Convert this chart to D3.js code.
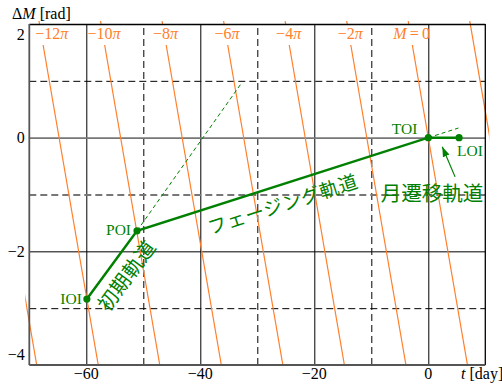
<!DOCTYPE html>
<html>
<head>
<meta charset="utf-8">
<script src="https://cdn.jsdelivr.net/npm/d3@7"></script>
<style>
body { margin: 0; background: #fff; }
svg { display: block; font-family: "Liberation Serif", "DejaVu Serif", serif; }
.jp { font-family: "Noto Sans CJK JP", sans-serif; }
</style>
</head>
<body>
<script>
"use strict";

// axis ticks and grid
const tTicks = [-60, -40, -20, 0];
const tGridDashed = [-50, -30, -10];
const dmTicks = [2, 0, -2, -4];
const dmGridSolid = [0, -2];
const dmGridDashed = [1, -1, -3];

// lines of constant mean anomaly M = k*pi
const mMultiples = [-14, -12, -10, -8, -6, -4, -2, 0, 2];
const mLabels = ["", "−12π", "−10π", "−8π", "−6π", "−4π", "−2π", "M\u2009=\u20090", ""];
const dmRate = 0.582; // rad/day

// events on the trajectory
const eventNames = ["IOI", "POI", "TOI", "LOI"];
const eventT = [-59.9, -51.1, 0, 5.4];
const eventDM = [-2.84, -1.64, 0, 0];

// thin dashed extensions [t, dM]
const initExtEnd = [-32.7, 0.97];
const phaseExtEnd = [5.3, 0.17];

// arrow pointing at the transfer leg
const arrowFrom = [4.7, -0.69];
const arrowTo = [2.45, -0.16];

const legNames = ["初期軌道", "フェージング軌道", "月遷移軌道"];

const w = 502;
const h = 385;
const margin = { top: 24, right: 16.7, bottom: 20, left: 29.3 };
const width = w - margin.left - margin.right;
const height = h - margin.top - margin.bottom;
const green = "#008000";
const orange = "#ff7f2a";

const x = d3.scaleLinear().domain([-70, 10]).range([0, width]);
const y = d3.scaleLinear().domain([-4, 2]).range([height, 0]);

const svg = d3.select("body").append("svg")
	.attr("width", w)
	.attr("height", h);

svg.append("defs").append("clipPath")
	.attr("id", "plotClip")
	.append("rect")
	.attr("x", -4)
	.attr("y", -3)
	.attr("width", width + 8)
	.attr("height", height + 3);

svg.select("defs").append("marker")
	.attr("id", "arrowHead")
	.attr("markerUnits", "userSpaceOnUse")
	.attr("markerWidth", 11)
	.attr("markerHeight", 8)
	.attr("refX", 10)
	.attr("refY", 4)
	.attr("orient", "auto")
	.append("path")
	.attr("d", "M0,0.5 L10,4 L0,7.5 Z")
	.attr("fill", green);

const chart = svg.append("g")
	.attr("transform", `translate(${margin.left},${margin.top})`);

// grid lines
function gridX(values, dashed) {
	const g = chart.append("g")
		.attr("transform", `translate(0,${height})`)
		.call(d3.axisBottom(x).tickValues(values).tickSize(-height).tickFormat(""));
	g.select(".domain").remove();
	g.selectAll("line")
		.attr("stroke", "#000")
		.attr("stroke-dasharray", dashed ? "7,4" : null);
}
function gridY(values, dashed) {
	const g = chart.append("g")
		.call(d3.axisLeft(y).tickValues(values).tickSize(-width).tickFormat(""));
	g.select(".domain").remove();
	g.selectAll("line")
		.attr("stroke", d => (d === 0 || d === -1) ? "#777" : "#000")
		.attr("stroke-width", d => (d === 0 || d === -1) ? 1.8 : 1)
		.attr("stroke-dasharray", dashed ? "7,4" : null);
}
gridX(tTicks, false);
gridX(tGridDashed, true);
gridY(dmGridSolid, false);
gridY(dmGridDashed, true);

// constant-M lines
const line = d3.line().x(d => x(d[0])).y(d => y(d[1]));
const mGroup = chart.append("g").attr("clip-path", "url(#plotClip)");
const labelGroup = chart.append("g").attr("fill", orange).style("font-size", "16px");

mMultiples.forEach((k, i) => {
	const M = k * Math.PI;
	const tAt = dm => (M - dm) / dmRate;
	const hasLabel = mLabels[i] !== "";
	const dmAbove = y.invert(-3);
	const dmTop = hasLabel ? y.invert(21) : dmAbove;
	const segs = [[[tAt(dmTop), dmTop], [tAt(-4), -4]]];
	if (hasLabel) segs.push([[tAt(dmAbove), dmAbove], [tAt(2), 2]]);
	segs.forEach(s => {
		mGroup.append("path")
			.attr("d", line(s))
			.attr("fill", "none")
			.attr("stroke", orange)
			.attr("stroke-width", 1.2);
	});
	if (hasLabel) {
		const txt = labelGroup.append("text")
			.attr("y", 14.5)
			.attr("text-anchor", "middle");
		mLabels[i].split(/([πM])/).filter(s => s !== "").forEach(s => {
			txt.append("tspan")
				.style("font-style", (s === "π" || s === "M") ? "italic" : null)
				.text(s);
		});
		const half = txt.node().getComputedTextLength() / 2;
		txt.attr("x", Math.max(x(tAt(2)) + 3, half + 6));
	}
});

// frame
chart.append("line").attr("x1", 0).attr("x2", width).attr("y1", 0.5).attr("y2", 0.5)
	.attr("stroke", "#000").attr("stroke-width", 1.3);
chart.append("line").attr("x1", width).attr("x2", width).attr("y1", 0).attr("y2", height)
	.attr("stroke", "#000").attr("stroke-width", 1.3);
chart.append("line").attr("x1", 0).attr("x2", 0).attr("y1", 0).attr("y2", height)
	.attr("stroke", "#555").attr("stroke-width", 1.8);
chart.append("line").attr("x1", 0).attr("x2", width).attr("y1", height).attr("y2", height)
	.attr("stroke", "#555").attr("stroke-width", 1.8);

// tick labels
chart.append("g").selectAll("text")
	.data(tTicks)
	.join("text")
	.attr("x", d => x(d))
	.attr("y", height + 14)
	.attr("text-anchor", "middle")
	.style("font-size", "16px")
	.text(d => d < 0 ? "−" + Math.abs(d) : d);

chart.append("g").selectAll("text")
	.data(dmTicks)
	.join("text")
	.attr("x", -4.5)
	.attr("y", d => Math.min(Math.max(y(d), 11), height - 10))
	.attr("dy", "0.33em")
	.attr("text-anchor", "end")
	.style("font-size", "16px")
	.text(d => d < 0 ? "−" + Math.abs(d) : d);

// axis titles
const yTitle = svg.append("text")
	.attr("x", 12)
	.attr("y", 19)
	.style("font-size", "16px");
yTitle.append("tspan").text("Δ");
yTitle.append("tspan").style("font-style", "italic").text("M");
yTitle.append("tspan").text(" [rad]");

const xTitle = svg.append("text")
	.attr("x", 461)
	.attr("y", 379)
	.style("font-size", "16px");
xTitle.append("tspan").style("font-style", "italic").text("t");
xTitle.append("tspan").text(" [day]");

// dashed extensions
const events = eventNames.map((name, i) => ({ name, t: eventT[i], dm: eventDM[i] }));
[[events[1], initExtEnd], [events[2], phaseExtEnd]].forEach(([e, end]) => {
	chart.append("path")
		.attr("d", line([[e.t, e.dm], end]))
		.attr("fill", "none")
		.attr("stroke", green)
		.attr("stroke-width", 1)
		.attr("stroke-dasharray", "4,3");
});

// trajectory
chart.append("path")
	.attr("d", line(events.map(e => [e.t, e.dm])))
	.attr("fill", "none")
	.attr("stroke", green)
	.attr("stroke-width", 2.5);

chart.append("g").selectAll("circle")
	.data(events)
	.join("circle")
	.attr("cx", d => x(d.t))
	.attr("cy", d => y(d.dm))
	.attr("r", 3.6)
	.attr("fill", green);

const eventLabelPos = [
	{ dx: -5, dy: 0, anchor: "end" },
	{ dx: -6, dy: -1.5, anchor: "end" },
	{ dx: -11, dy: -9, anchor: "end" },
	{ dx: -2, dy: 13, anchor: "start" }
];
chart.append("g").selectAll("text")
	.data(events)
	.join("text")
	.attr("x", (d, i) => x(d.t) + eventLabelPos[i].dx)
	.attr("y", (d, i) => y(d.dm) + eventLabelPos[i].dy)
	.attr("dy", "0.35em")
	.attr("text-anchor", (d, i) => eventLabelPos[i].anchor)
	.attr("fill", green)
	.style("font-size", "15.5px")
	.text(d => d.name);

// leg labels along the trajectory
function legLabel(a, b, text, size, offset, along, spacing) {
	const x1 = x(a.t), y1 = y(a.dm), x2 = x(b.t), y2 = y(b.dm);
	const len = Math.hypot(x2 - x1, y2 - y1);
	const ux = (x2 - x1) / len, uy = (y2 - y1) / len;
	const cx = (x1 + x2) / 2 - uy * offset + ux * along;
	const cy = (y1 + y2) / 2 + ux * offset + uy * along;
	const angle = Math.atan2(uy, ux) * 180 / Math.PI;
	chart.append("text")
		.attr("class", "jp")
		.attr("transform", `translate(${cx},${cy}) rotate(${angle})`)
		.attr("text-anchor", "middle")
		.attr("dominant-baseline", "central")
		.attr("fill", green)
		.style("font-size", size + "px")
		.style("letter-spacing", spacing + "px")
		.text(text);
}
legLabel(events[0], events[1], legNames[0], 20, 17, 0, 0.5);
legLabel(events[1], events[2], legNames[1], 19, 17.5, -6, 0.6);

// arrow + transfer label
chart.append("line")
	.attr("x1", x(arrowFrom[0]))
	.attr("y1", y(arrowFrom[1]))
	.attr("x2", x(arrowTo[0]))
	.attr("y2", y(arrowTo[1]))
	.attr("stroke", green)
	.attr("stroke-width", 1.2)
	.attr("marker-end", "url(#arrowHead)");

chart.append("text")
	.attr("class", "jp")
	.attr("x", x(arrowFrom[0]) - 23)
	.attr("y", y(arrowFrom[1]) + 15)
	.attr("text-anchor", "middle")
	.attr("dominant-baseline", "central")
	.attr("fill", green)
	.style("font-size", "20.5px")
	.text(legNames[2]);
</script>
</body>
</html>
